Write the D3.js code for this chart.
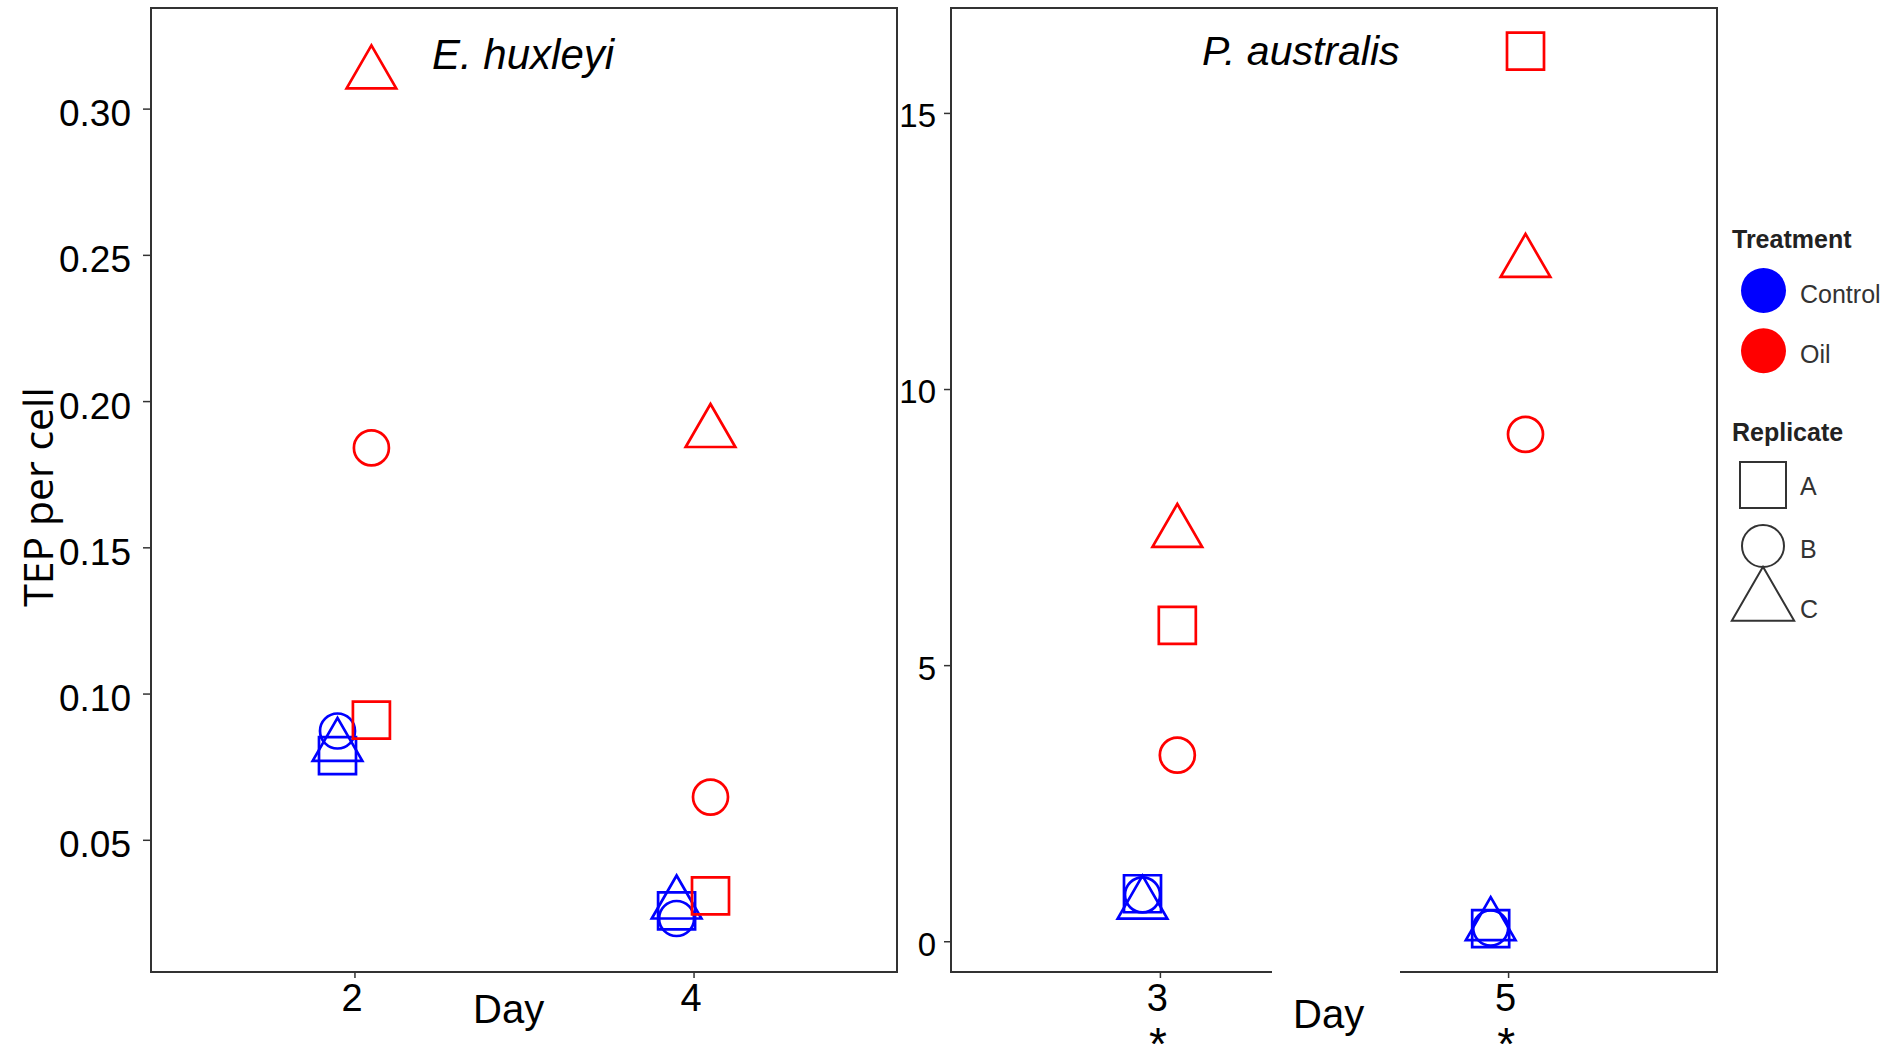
<!DOCTYPE html>
<html>
<head>
<meta charset="utf-8">
<script src="https://cdn.jsdelivr.net/npm/d3@7"></script>
<style>
    body { margin: 0; background: #fff; }
    text { font-family: "Liberation Sans", Arial, sans-serif; }
</style>
</head>
<body>
<div id="chart"></div>
<script>
// ---- data ----
const treatments = ['Control', 'Oil'];
const replicates = ['A', 'B', 'C'];

// E. huxleyi, TEP per cell
const ehuxDays = ['2', '4'];
const ehuxControlA = [0.0788, 0.0257];
const ehuxControlB = [0.0872, 0.0231];
const ehuxControlC = [0.0819, 0.0280];
const ehuxOilA = [0.0909, 0.0308];
const ehuxOilB = [0.1840, 0.0646];
const ehuxOilC = [0.3118, 0.1892];
const ehuxTicks = [0.05, 0.10, 0.15, 0.20, 0.25, 0.30];
const ehuxLimits = [0.0048, 0.3344];

// P. australis, TEP per cell
const paustDays = ['3', '5'];
const paustControlA = [0.86, 0.23];
const paustControlB = [0.84, 0.24];
const paustControlC = [0.67, 0.28];
const paustOilA = [5.72, 16.12];
const paustOilB = [3.37, 9.18];
const paustOilC = [7.40, 12.29];
const paustTicks = [0, 5, 10, 15];
const paustLimits = [-0.557, 16.9];
const paustDayNotes = ['*', '*'];

const treatmentColors = {Control: '#0000ff', Oil: '#ff0000'};
const replicateSymbols = {A: d3.symbolSquare, B: d3.symbolCircle, C: d3.symbolTriangle};

// flatten series into rows for the scatter
function toRows(days, series) {
    let rows = [];
    series.forEach(s => {
        s.values.forEach((v, i) => {
            rows.push({day: days[i], treatment: s.treatment, replicate: s.replicate, value: v});
        });
    });
    return rows;
}

const ehuxRows = toRows(ehuxDays, [
    {treatment: 'Control', replicate: 'A', values: ehuxControlA},
    {treatment: 'Control', replicate: 'B', values: ehuxControlB},
    {treatment: 'Control', replicate: 'C', values: ehuxControlC},
    {treatment: 'Oil', replicate: 'A', values: ehuxOilA},
    {treatment: 'Oil', replicate: 'B', values: ehuxOilB},
    {treatment: 'Oil', replicate: 'C', values: ehuxOilC}
]);

const paustRows = toRows(paustDays, [
    {treatment: 'Control', replicate: 'A', values: paustControlA},
    {treatment: 'Control', replicate: 'B', values: paustControlB},
    {treatment: 'Control', replicate: 'C', values: paustControlC},
    {treatment: 'Oil', replicate: 'A', values: paustOilA},
    {treatment: 'Oil', replicate: 'B', values: paustOilB},
    {treatment: 'Oil', replicate: 'C', values: paustOilC}
]);

const svg = d3.select('#chart').append('svg')
    .attr('width', 1893)
    .attr('height', 1044);

// symbol areas so the plotted shapes match the reference size
const symbolSize = {A: 37 * 37, B: Math.PI * 17.5 * 17.5, C: 1067};

class ScatterPanel {

    constructor(svg, opts) {
        this.svg = svg;
        Object.assign(this, opts);
        this.initVis();
    }

    initVis() {
        let vis = this;

        vis.x = d3.scalePoint()
            .domain(vis.days)
            .range([vis.left, vis.right])
            .padding(0.6);

        vis.y = d3.scaleLinear()
            .domain(vis.limits)
            .range([vis.bottom, vis.top]);

        vis.g = vis.svg.append('g');

        // y axis
        let yAxis = d3.axisLeft(vis.y)
            .tickValues(vis.ticks)
            .tickFormat(vis.tickFormat)
            .tickSize(vis.yTickSize)
            .tickPadding(vis.yTickPadding);

        let yg = vis.g.append('g')
            .attr('transform', `translate(${vis.left},0)`)
            .call(yAxis);
        yg.select('.domain').remove();
        yg.selectAll('.tick line').attr('stroke', '#333').attr('stroke-width', 1.5);
        yg.selectAll('.tick text')
            .attr('fill', '#000')
            .attr('dy', vis.yLabelDy)
            .style('font-size', vis.yFont + 'px');

        // x axis
        let xAxis = d3.axisBottom(vis.x)
            .tickSize(6)
            .tickPadding(6);

        let xg = vis.g.append('g')
            .attr('transform', `translate(0,${vis.bottom})`)
            .call(xAxis);
        xg.select('.domain').remove();
        xg.selectAll('.tick line').attr('stroke', '#333').attr('stroke-width', 1.5);
        xg.selectAll('.tick text')
            .attr('fill', '#000')
            .attr('dx', -3)
            .style('font-size', '38px');

        // panel border
        vis.g.append('rect')
            .attr('x', vis.left)
            .attr('y', vis.top)
            .attr('width', vis.right - vis.left)
            .attr('height', vis.bottom - vis.top)
            .attr('fill', 'none')
            .attr('stroke', '#333')
            .attr('stroke-width', 2);

        // points, dodged by treatment
        let dodge = vis.x.step() * 0.05;
        vis.g.selectAll('.pt')
            .data(vis.rows)
            .enter()
            .append('path')
            .attr('class', 'pt')
            .attr('d', d => d3.symbol(replicateSymbols[d.replicate], symbolSize[d.replicate])())
            .attr('transform', d => {
                let cx = vis.x(d.day) + (d.treatment === 'Control' ? -dodge : dodge);
                return `translate(${cx},${vis.y(d.value)})`;
            })
            .attr('fill', 'none')
            .attr('stroke', d => treatmentColors[d.treatment])
            .attr('stroke-width', 2.7);

        // species title
        vis.g.append('text')
            .attr('x', vis.titleX)
            .attr('y', vis.titleY)
            .style('font-size', vis.titleFont + 'px')
            .style('font-style', 'italic')
            .text(vis.title);

        // "Day" label (right panel has a white box over the border)
        if (vis.dayBox) {
            vis.g.append('rect')
                .attr('x', vis.dayBox[0])
                .attr('y', vis.bottom - 3)
                .attr('width', vis.dayBox[1] - vis.dayBox[0])
                .attr('height', 1044 - vis.bottom)
                .attr('fill', '#fff');
        }
        vis.g.append('text')
            .attr('x', vis.dayX)
            .attr('y', vis.dayY)
            .style('font-size', '40px')
            .text('Day');

        // significance marks under the day ticks (cut by the bottom edge, as in the figure)
        if (vis.notes) {
            vis.g.selectAll('.note')
                .data(vis.days)
                .enter()
                .append('text')
                .attr('class', 'note')
                .attr('x', d => vis.x(d) - 2)
                .attr('y', 1060)
                .attr('text-anchor', 'middle')
                .style('font-size', '46px')
                .text((d, i) => vis.notes[i]);
        }
    }
}

new ScatterPanel(svg, {
    rows: ehuxRows, days: ehuxDays, limits: ehuxLimits, ticks: ehuxTicks,
    tickFormat: d3.format('.2f'),
    left: 151, right: 897, top: 8, bottom: 972,
    yTickSize: 8, yTickPadding: 12, yFont: 37, yLabelDy: '0.46em',
    title: 'E. huxleyi', titleX: 432, titleY: 69, titleFont: 42,
    dayX: 473, dayY: 1023
});

new ScatterPanel(svg, {
    rows: paustRows, days: paustDays, limits: paustLimits, ticks: paustTicks,
    tickFormat: d3.format('d'),
    left: 951, right: 1717, top: 8, bottom: 972,
    yTickSize: 7, yTickPadding: 8, yFont: 33, yLabelDy: '0.42em',
    title: 'P. australis', titleX: 1202, titleY: 65, titleFont: 41,
    dayX: 1293, dayY: 1028, dayBox: [1272, 1400],
    notes: paustDayNotes
});

// y axis title
svg.append('text')
    .attr('transform', 'translate(53,497) rotate(-90)')
    .attr('text-anchor', 'middle')
    .style('font-family', '"Open Sans", sans-serif')
    .style('font-size', '41px')
    .text('TEP per cell');

// ---- legend ----
let legend = svg.append('g').attr('class', 'legend');

legend.append('text')
    .attr('x', 1732).attr('y', 248)
    .style('font-size', '25px').style('font-weight', 'bold').attr('fill', '#222')
    .text('Treatment');

let treatKeys = legend.selectAll('.treat')
    .data(treatments)
    .enter()
    .append('g')
    .attr('class', 'treat')
    .attr('transform', (d, i) => `translate(0,${i * 60.3})`);

treatKeys.append('circle')
    .attr('cx', 1763.5).attr('cy', 290.5).attr('r', 22.5)
    .attr('fill', d => treatmentColors[d]);

treatKeys.append('text')
    .attr('x', 1800).attr('y', 303)
    .style('font-size', '25px').attr('fill', '#333')
    .text(d => d);

legend.append('text')
    .attr('x', 1732).attr('y', 441)
    .style('font-size', '25px').style('font-weight', 'bold').attr('fill', '#222')
    .text('Replicate');

const legendSymbolSize = {A: 46 * 46, B: Math.PI * 21 * 21, C: 1684};
const legendSymbolY = {A: 485, B: 546, C: 602.7};
const legendTextY = {A: 495, B: 558, C: 618};

legend.selectAll('.rep')
    .data(replicates)
    .enter()
    .append('path')
    .attr('class', 'rep')
    .attr('d', d => d3.symbol(replicateSymbols[d], legendSymbolSize[d])())
    .attr('transform', d => `translate(1763,${legendSymbolY[d]})`)
    .attr('fill', 'none')
    .attr('stroke', '#333')
    .attr('stroke-width', 2);

legend.selectAll('.repLabel')
    .data(replicates)
    .enter()
    .append('text')
    .attr('class', 'repLabel')
    .attr('x', 1800)
    .attr('y', d => legendTextY[d])
    .style('font-size', '25px').attr('fill', '#333')
    .text(d => d);
</script>
</body>
</html>
